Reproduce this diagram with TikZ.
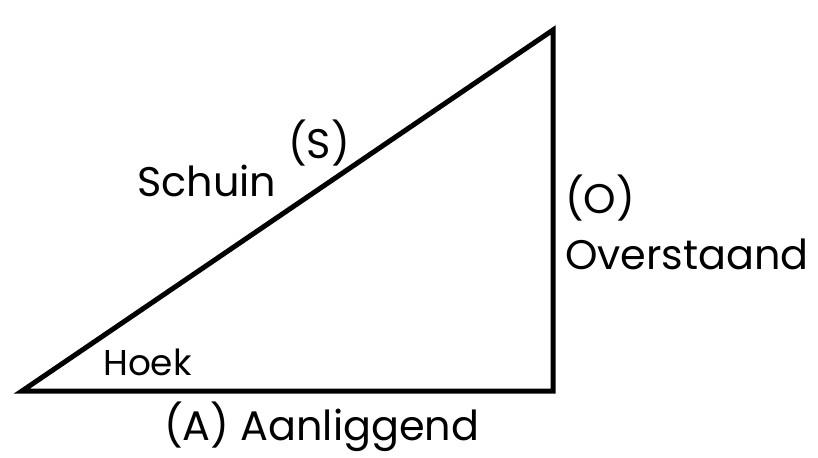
\documentclass[tikz,border=0pt]{standalone}
\usepackage{fontspec}
\setmainfont{Poppins}
\begin{document}
\begin{tikzpicture}[x=1bp,y=-1bp,
  side/.style={line width=5bp,line join=miter,miter limit=20},
  lbl/.style={anchor=base west,inner sep=0pt,font=\fontsize{41.5}{44}\selectfont},
  small/.style={anchor=base west,inner sep=0pt,font=\fontsize{36}{38}\selectfont}]
\useasboundingbox[fill=white] (0,0) rectangle (818,458);
\coordinate (L) at (22,391);
\coordinate (R) at (553,391);
\coordinate (T) at (553,30);
\draw[side] (L) -- (R) -- (T) -- cycle;
\node[lbl] (schuin) at (137,197) {Schuin};
\node[lbl] (s) at (288,159) {(S)};
\node[lbl] (o) at (565,214) {(O)};
\node[lbl] (over) at (565,270) {Overstaand};
\node[small] (hoek) at (103,376) {Hoek};
\node[lbl] (aan) at (164,440) {(A) Aanliggend};
\end{tikzpicture}
\end{document}
